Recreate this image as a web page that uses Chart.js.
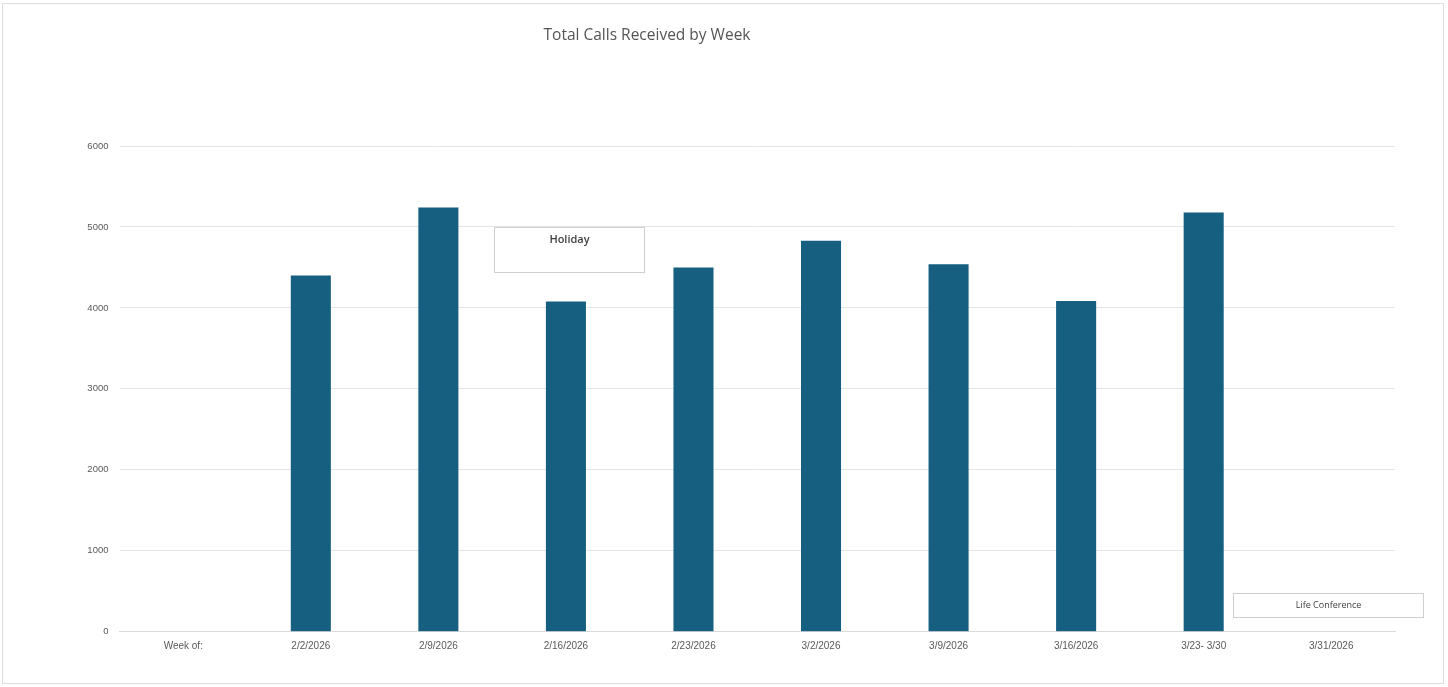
<!DOCTYPE html>
<html>
<head>
<meta charset="utf-8">
<title>Total Calls Received by Week</title>
<script src="https://cdn.jsdelivr.net/npm/chart.js@4.4.1/dist/chart.umd.min.js"></script>
<style>
    html, body { margin: 0; padding: 0; background: #fff; }
    #wrap {
        position: absolute; left: 2px; top: 3px;
        width: 1442px; height: 681px;
        border: 1px solid #dcdcdc;
        box-sizing: border-box;
    }
    #frame { position: absolute; left: 0; top: 0; width: 1448px; height: 687px; }
</style>
</head>
<body>
<div id="wrap"></div>
<div id="frame"><canvas id="callsChart" width="1448" height="687"></canvas></div>
<script>
// Weekly call totals
const weeks = ['Week of:', '2/2/2026', '2/9/2026', '2/16/2026', '2/23/2026', '3/2/2026', '3/9/2026', '3/16/2026', '3/23- 3/30', '3/31/2026'];
const calls = [null, 4400, 5240, 4080, 4500, 4830, 4540, 4085, 5180, null];
const yTicks = [0, 1000, 2000, 3000, 4000, 5000, 6000];

// Note boxes, placed in axis units (category index / call count)
const notes = [
    { text: 'Holiday', from: 2.44, to: 3.61, top: 5000, bottom: 4440, bold: true, size: 11, valign: 'top' },
    { text: 'Life Conference', from: 8.23, to: 9.72, top: 482, bottom: 185, bold: false, size: 9, valign: 'middle' }
];

const barColor = '#165f80';
const textGray = '#595959';

// Title sits left of centre, above the plot
const titlePlugin = {
    id: 'sheetTitle',
    afterDraw(chart) {
        const ctx = chart.ctx;
        ctx.save();
        ctx.font = '15.5px "Open Sans", sans-serif';
        ctx.fillStyle = '#555';
        ctx.textAlign = 'center';
        ctx.textBaseline = 'middle';
        ctx.fillText('Total Calls Received by Week', 647, 36);
        ctx.restore();
    }
};

const notesPlugin = {
    id: 'noteBoxes',
    afterDraw(chart) {
        const ctx = chart.ctx;
        const x = chart.scales.x, y = chart.scales.y;
        ctx.save();
        notes.forEach(n => {
            const l = Math.round(x.getPixelForValue(n.from)) + 0.5;
            const r = Math.round(x.getPixelForValue(n.to)) + 0.5;
            const t = Math.round(y.getPixelForValue(n.top)) + 0.5;
            const b = Math.round(y.getPixelForValue(n.bottom)) + 0.5;
            ctx.fillStyle = '#fff';
            ctx.fillRect(l, t, r - l, b - t);
            ctx.strokeStyle = '#cfcfcf';
            ctx.lineWidth = 1;
            ctx.strokeRect(l, t, r - l, b - t);
            ctx.font = (n.bold ? '600 ' : '') + n.size + 'px "Open Sans", sans-serif';
            ctx.fillStyle = '#404040';
            ctx.textAlign = 'center';
            ctx.textBaseline = 'middle';
            const ty = n.valign === 'top' ? t + 12 : (t + b) / 2;
            ctx.fillText(n.text, (l + r) / 2, ty);
        });
        ctx.restore();
    }
};

const ctx = document.getElementById('callsChart').getContext('2d');
new Chart(ctx, {
    type: 'bar',
    data: {
        labels: weeks,
        datasets: [{
            label: 'Calls',
            data: calls,
            backgroundColor: barColor,
            borderWidth: 0,
            categoryPercentage: 1,
            barPercentage: 0.314
        }]
    },
    options: {
        responsive: false,
        animation: false,
        layout: { padding: { top: 146, right: 53, bottom: 0, left: 0 } },
        plugins: {
            legend: { display: false },
            title: { display: false },
            tooltip: { enabled: false }
        },
        scales: {
            x: {
                grid: { display: false, drawTicks: false },
                border: { color: '#d9d9d9', width: 1 },
                ticks: {
                    color: textGray,
                    font: { family: '"Liberation Sans", Arial, sans-serif', size: 10 },
                    padding: 9,
                    maxRotation: 0,
                    autoSkip: false
                },
                afterFit(scale) { scale.height = 55.3; }
            },
            y: {
                min: 0,
                max: 6000,
                afterBuildTicks(scale) { scale.ticks = yTicks.map(v => ({ value: v })); },
                grid: { color: '#e4e4e4', drawTicks: false },
                border: { display: false },
                ticks: {
                    color: textGray,
                    font: { family: '"Liberation Sans", Arial, sans-serif', size: 9.5 },
                    padding: 11,
                    callback: v => String(v)
                },
                afterFit(scale) { scale.width = 119.5; }
            }
        }
    },
    plugins: [titlePlugin, notesPlugin]
});
</script>
</body>
</html>
